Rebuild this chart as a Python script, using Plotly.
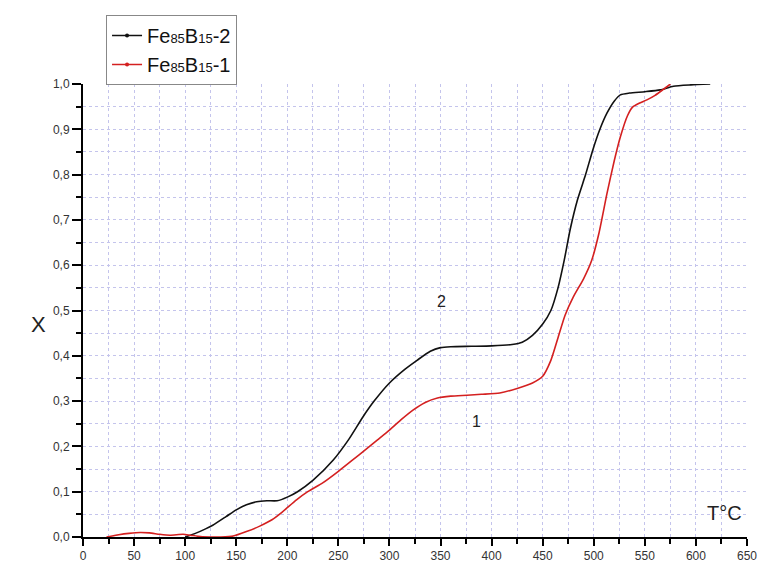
import plotly.graph_objects as go

# Sample 2 (black)
T2 = [100, 110, 120, 127, 140, 150, 160, 170, 180, 190, 200, 210, 225, 245, 260, 274, 285, 300, 315, 327, 340, 350, 360, 380, 400, 420, 430, 440, 450, 458, 465, 471, 477, 484, 492, 499, 506, 513, 520, 526, 535, 550, 565, 578, 595, 614]
X2 = [0.0, 0.008, 0.018, 0.026, 0.045, 0.06, 0.071, 0.078, 0.08, 0.08, 0.088, 0.1, 0.125, 0.17, 0.215, 0.265, 0.3, 0.34, 0.37, 0.39, 0.41, 0.418, 0.42, 0.421, 0.422, 0.425, 0.43, 0.445, 0.47, 0.5, 0.55, 0.61, 0.68, 0.744, 0.8, 0.854, 0.9, 0.936, 0.962, 0.976, 0.98, 0.983, 0.987, 0.995, 0.998, 1.0]

# Sample 1 (red)
T1 = [23, 35, 45, 56, 65, 75, 85, 98, 105, 115, 125, 135, 147, 160, 173, 185, 195, 209, 220, 235, 250, 264, 276, 288, 300, 312, 323, 335, 347, 360, 376, 390, 408, 425, 440, 450, 458, 465, 472, 480, 490, 498, 505, 513, 520, 526, 533, 538, 545, 552, 560, 568, 575]
X1 = [0.0, 0.005, 0.008, 0.01, 0.009, 0.006, 0.004, 0.006, 0.004, 0.001, 0.0, 0.0, 0.002, 0.012, 0.024, 0.038, 0.055, 0.082, 0.1, 0.12, 0.145, 0.17, 0.192, 0.214, 0.236, 0.26, 0.28, 0.297, 0.307, 0.311, 0.313, 0.315, 0.318, 0.328, 0.34, 0.355, 0.39, 0.44, 0.49, 0.53, 0.57, 0.611, 0.67, 0.759, 0.83, 0.883, 0.93, 0.949, 0.958, 0.965, 0.975, 0.988, 1.0]

x_ticks = list(range(0, 651, 50))
y_ticks = [i / 10 for i in range(11)]
y_tick_text = [f"{v:.1f}".replace(".", ",") for v in y_ticks]

sub = "<span style='font-size:13px'>{}</span>"
names = ["Fe" + sub.format("85") + "B" + sub.format("15") + "-2",
         "Fe" + sub.format("85") + "B" + sub.format("15") + "-1"]
colors = ["#111111", "#d42020"]

fig = go.Figure()
fig.add_trace(go.Scatter(x=T2, y=X2, mode="lines", line=dict(color=colors[0], width=1.6, shape="spline", smoothing=0.6), showlegend=False))
fig.add_trace(go.Scatter(x=T1, y=X1, mode="lines", line=dict(color=colors[1], width=1.6, shape="spline", smoothing=0.6), showlegend=False))
for n, c in zip(names, colors):
    fig.add_trace(go.Scatter(x=[None], y=[None], mode="lines+markers", name=n,
                             line=dict(color=c, width=1.5), marker=dict(color=c, size=4)))

grid_color = "#c4c4ec"
fig.update_xaxes(range=[0, 650], tickvals=x_ticks, ticktext=[str(v) for v in x_ticks],
                 showline=True, linecolor="black", linewidth=2, ticks="outside", ticklen=7, tickwidth=1.5, tickcolor="black",
                 showgrid=True, gridcolor=grid_color, griddash="dot", gridwidth=1,
                 minor=dict(dtick=25, tick0=0, showgrid=True, gridcolor=grid_color, griddash="dot", ticks="outside", ticklen=5, tickcolor="black", tickwidth=1.5),
                 zeroline=False, tickfont=dict(size=12, color="#333"), mirror=False, automargin=False,
                 ticklabeloverflow="allow")
fig.update_yaxes(range=[0, 1.0], tickvals=y_ticks, ticktext=y_tick_text,
                 showline=True, linecolor="black", linewidth=2, ticks="outside", ticklen=9, tickwidth=1.5, tickcolor="black",
                 showgrid=True, gridcolor=grid_color, griddash="dot", gridwidth=1,
                 minor=dict(dtick=0.05, tick0=0, showgrid=True, gridcolor=grid_color, griddash="dot", ticks="outside", ticklen=5, tickcolor="black", tickwidth=1.5),
                 zeroline=False, tickfont=dict(size=12, color="#333"), automargin=False)

fig.add_annotation(x=-0.081, y=0.468, xref="paper", yref="paper", text="X", showarrow=False, font=dict(size=22, color="#222"))
fig.add_annotation(x=628, y=0.053, text="T°C", showarrow=False, font=dict(size=20, color="#222"))
fig.add_annotation(x=350.5, y=0.519, text="2", showarrow=False, font=dict(size=16, color="#222"))
fig.add_annotation(x=385, y=0.254, text="1", showarrow=False, font=dict(size=16, color="#222"))

fig.update_layout(
    width=759, height=568,
    margin=dict(l=83, r=12, t=84, b=31, autoexpand=False),
    plot_bgcolor="white", paper_bgcolor="white",
    font=dict(family="Liberation Sans, Arial, sans-serif"),
    legend=dict(x=0.1397, y=0.9736, xref="container", yref="container", xanchor="left", yanchor="top", bgcolor="white",
                bordercolor="#888", borderwidth=1, font=dict(size=20, color="#111"),
                tracegroupgap=0),
)

fig.write_html("out.html", config={"displayModeBar": False},
               post_script="document.body.style.margin='0';document.body.style.overflow='hidden';")
